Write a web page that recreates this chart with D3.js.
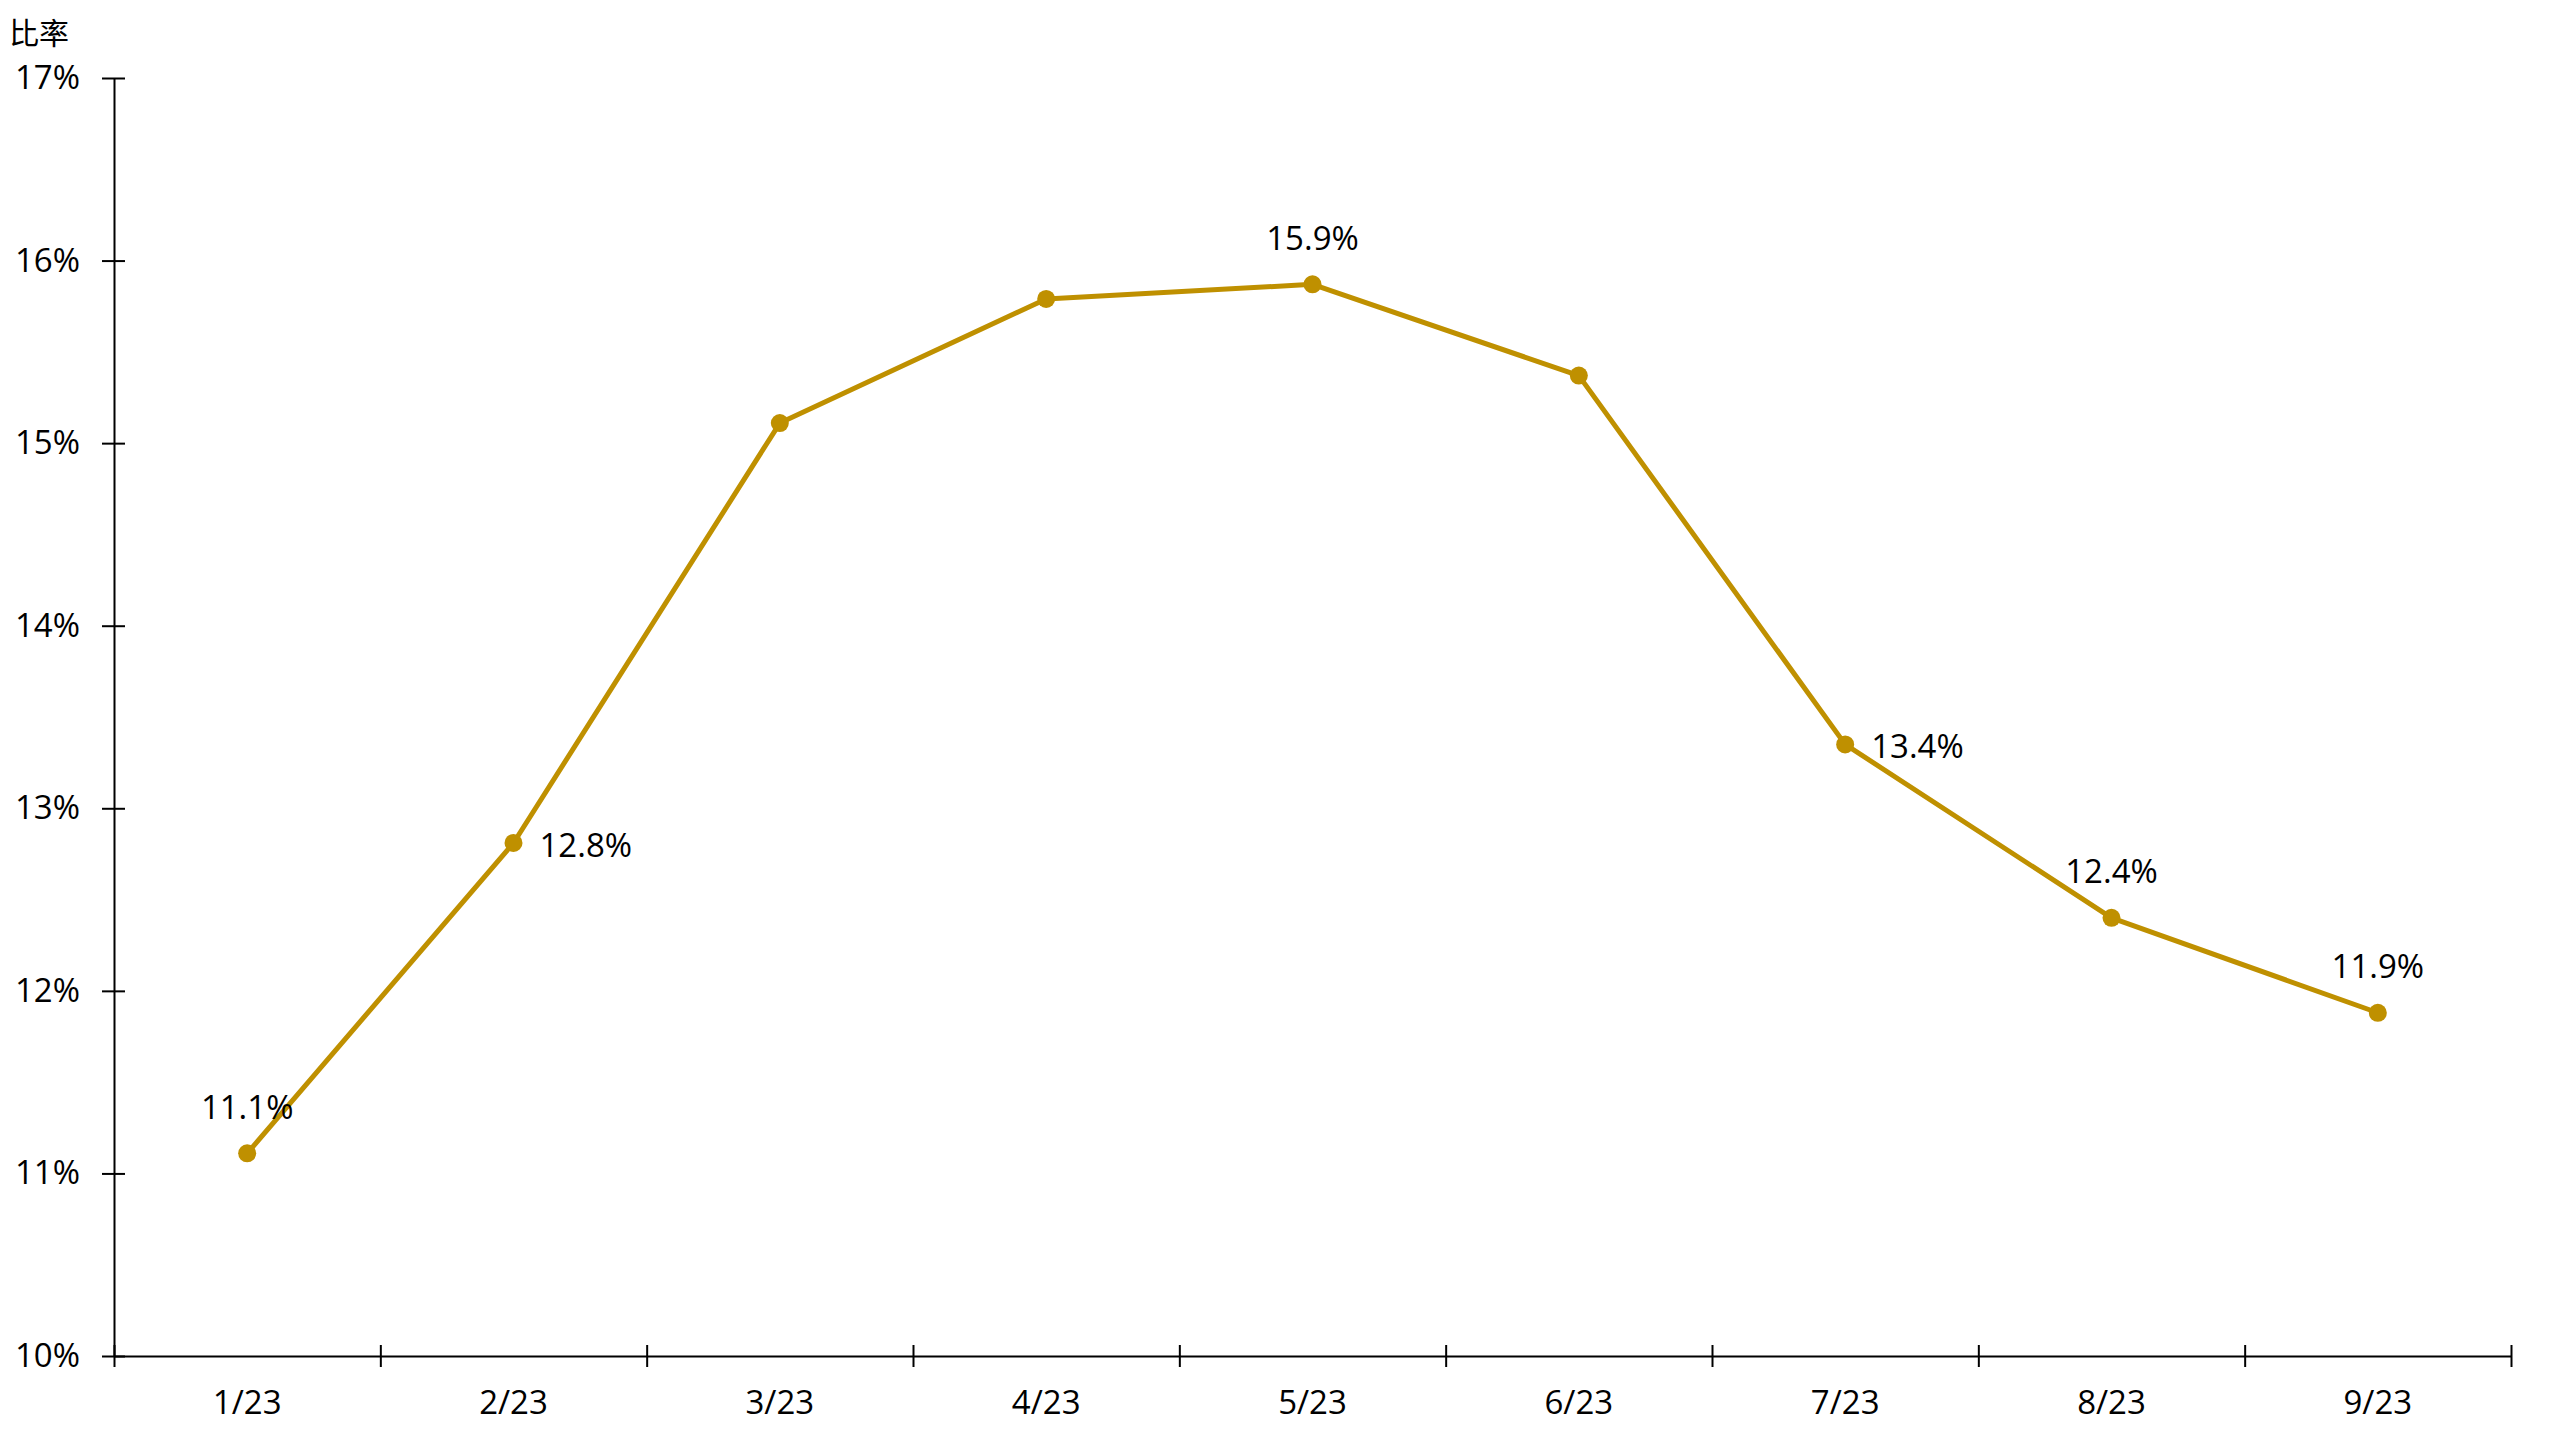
<!DOCTYPE html>
<html>
<head>
<meta charset="utf-8">
<script src="https://cdn.jsdelivr.net/npm/d3@7"></script>
<style>
	body { margin: 0; background: #fff; }
	svg text { font-family: "Open Sans", "Noto Sans CJK TC", sans-serif; fill: #000; }
</style>
</head>
<body>
<div id="graph-div"></div>
<script>
'use strict'

const months = ["1/23", "2/23", "3/23", "4/23", "5/23", "6/23", "7/23", "8/23", "9/23"]
const rates = [11.11, 12.81, 15.11, 15.79, 15.87, 15.37, 13.35, 12.40, 11.88]
const labelText = ["11.1%", "12.8%", "", "", "15.9%", "", "13.4%", "12.4%", "11.9%"]
// where each label goes relative to its point
const labelPos = ["top", "right", "", "", "top", "", "right", "top", "top"]
const yTicks = [10, 11, 12, 13, 14, 15, 16, 17]
const yTitle = "比率"

const lineColor = "#bf9000"

function drawChart(){
	let width = 2560, height = 1440
	let padding = {top: 78, bottom: 84, left: 114, right: 49}

	let svg = d3.select("#graph-div").append("svg")
		.attr("width", width).attr("height", height)

	let plotW = width - padding.left - padding.right
	let plotH = height - padding.top - padding.bottom

	let xBand = d3.scaleBand().domain(months).range([0, plotW]).padding(0)
	let xEdge = d3.scaleLinear().domain([0, months.length]).range([0, plotW])
	let yScale = d3.scaleLinear().domain([10, 17]).range([plotH, 0])

	let g = svg.append("g").attr("transform", "translate(" + padding.left + "," + padding.top + ")")

	// y axis
	let yAxis = g.append("g").attr("class", "y-axis")
		.call(d3.axisLeft(yScale).tickValues(yTicks).tickFormat(d => d + "%").tickSizeOuter(0))
	yAxis.selectAll(".tick line").attr("x1", -12).attr("x2", 11)
	yAxis.selectAll(".tick text").attr("x", -34).attr("font-size", 33)
	yAxis.select(".domain").attr("stroke-width", 2)
	yAxis.selectAll(".tick line").attr("stroke-width", 2)

	// x axis: boundary ticks
	let xEdgeAxis = g.append("g").attr("transform", "translate(0," + plotH + ")")
		.call(d3.axisBottom(xEdge).tickValues(d3.range(months.length + 1)).tickFormat("").tickSizeOuter(0))
	xEdgeAxis.selectAll(".tick line").attr("y1", -11).attr("y2", 11).attr("stroke-width", 2)
	xEdgeAxis.select(".domain").attr("stroke-width", 2)

	// x axis: category labels
	let xLab = g.append("g").attr("transform", "translate(0," + plotH + ")")
		.call(d3.axisBottom(xBand).tickSize(0))
	xLab.select(".domain").remove()
	xLab.selectAll(".tick text").attr("y", 46).attr("dy", "0.35em").attr("font-size", 33)

	let xc = d => xBand(d) + xBand.bandwidth() / 2

	let line = d3.line()
		.x((d, i) => xc(months[i]))
		.y(d => yScale(d))

	g.append("path").datum(rates)
		.attr("d", line)
		.attr("fill", "none")
		.attr("stroke", lineColor)
		.attr("stroke-width", 5)
		.attr("stroke-linejoin", "round")

	g.selectAll(".dot").data(rates).enter().append("circle")
		.attr("class", "dot")
		.attr("cx", (d, i) => xc(months[i]))
		.attr("cy", d => yScale(d))
		.attr("r", 9)
		.attr("fill", lineColor)

	g.selectAll(".vlabel").data(rates).enter().append("text")
		.attr("class", "vlabel")
		.attr("font-size", 33)
		.attr("x", (d, i) => labelPos[i] == "right" ? xc(months[i]) + 26 : xc(months[i]))
		.attr("y", (d, i) => labelPos[i] == "right" ? yScale(d) + 2 : yScale(d) - 46)
		.attr("dy", "0.35em")
		.attr("text-anchor", (d, i) => labelPos[i] == "right" ? "start" : "middle")
		.text((d, i) => labelText[i])

	svg.append("text")
		.attr("x", 9).attr("y", 33).attr("dy", "0.35em")
		.attr("font-size", 30)
		.text(yTitle)
}

drawChart()
</script>
</body>
</html>
